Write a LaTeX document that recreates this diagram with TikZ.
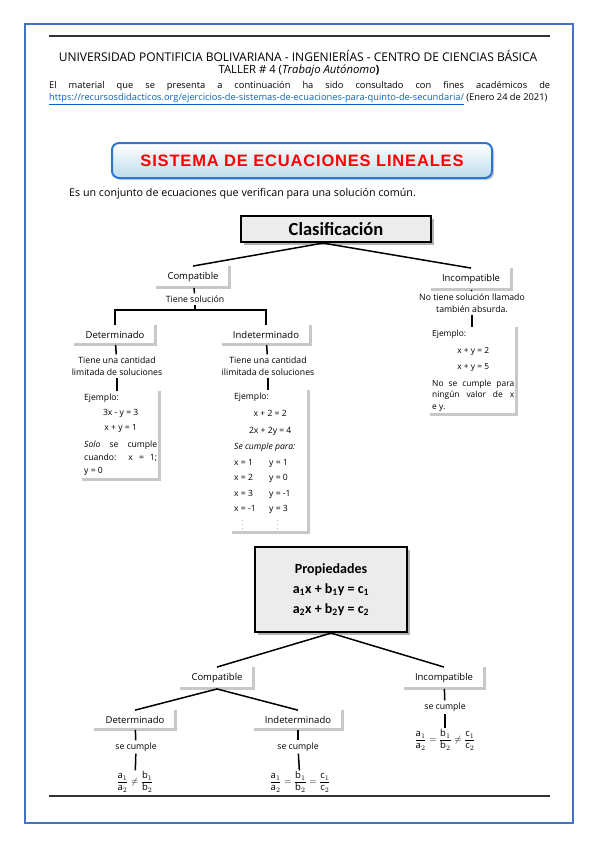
\documentclass[tikz,border=0pt]{standalone}
\usepackage{fontspec}
\usepackage{amsmath}
\setmainfont{Open Sans}
\newfontfamily\carlitofont{Carlito}
\newfontfamily\arialfont{Liberation Sans}
\usetikzlibrary{shadows,positioning,calc}

\definecolor{marcoazul}{RGB}{68,114,196}
\definecolor{bordetitulo}{RGB}{46,117,208}
\definecolor{enlace}{RGB}{5,99,193}
\definecolor{grisL}{RGB}{200,200,200}
\definecolor{grisCaja}{RGB}{236,236,236}

\begin{document}
\begin{tikzpicture}[x=1pt,y=-1pt,
    regla/.style={line width=2pt,black!80},
    conector/.style={line width=1.5pt},
    sombra/.style={line width=3pt,grisL},
    etiqueta/.style={font=\fontsize{9.5}{11}\selectfont,inner xsep=11pt,inner ysep=6pt},
    texto/.style={font=\fontsize{8.7}{12}\selectfont,align=center,inner sep=2pt},
    fraccion/.style={font=\fontsize{9.5}{12}\selectfont,inner sep=1pt},
    ejemplo/.style={align=left,anchor=north west,inner xsep=2pt,inner ysep=3pt},
    caja/.style={draw,line width=2.2pt,fill=grisCaja,
        drop shadow={shadow xshift=3pt,shadow yshift=-3pt,fill=black!50,opacity=.6}}]

  \useasboundingbox (0,0) rectangle (599,848);

  % page frame and rules
  \draw[line width=2.5pt,marcoazul] (25,24) rectangle (573,823);
  \draw[regla] (49,36) -- (550,36);
  \draw[regla] (49,796) -- (550,796);

  % header
  \node[font=\fontsize{12}{14}\selectfont] (uni) at (298,56)
       {UNIVERSIDAD PONTIFICIA BOLIVARIANA - INGENIERÍAS - CENTRO DE CIENCIAS BÁSICA};
  \node[font=\fontsize{11.3}{13}\selectfont] (taller) at (299,71)
       {TALLER \# 4 (\textit{Trabajo Autónomo}\textbf{)}};
  \node[anchor=west,inner sep=0,font=\fontsize{9.3}{11}\selectfont] (material) at (49,86)
       {\makebox[501pt][s]{El material que se presenta a continuación ha sido consultado con fines académicos de}};
  \node[anchor=west,inner sep=0,font=\fontsize{9.3}{11}\selectfont] (fuente) at (49,99.5)
       {\textcolor{enlace}{\underline{https://recursosdidacticos.org/ejercicios-de-sistemas-de-ecuaciones-para-quinto-de-secundaria/}} (Enero 24 de 2021)};

  % title
  \node[draw=bordetitulo,line width=2pt,rounded corners=7pt,
        top color=white,bottom color={rgb,255:red,188;green,221;blue,236},
        drop shadow={shadow xshift=2pt,shadow yshift=-2pt,opacity=.4},
        minimum width=380pt,minimum height=35pt,text=red,
        font=\arialfont\bfseries\fontsize{16.5}{18}\selectfont\addfontfeature{LetterSpace=5}]
       (titulo) at (302,160.5) {SISTEMA DE ECUACIONES LINEALES};
  \node[anchor=west,inner sep=0,font=\fontsize{10.7}{12}\selectfont] (definicion) at (69,194)
       {Es un conjunto de ecuaciones que verifican para una solución común.};

  % clasificacion
  \node[caja,minimum width=190pt,minimum height=26pt,
        font=\carlitofont\bfseries\fontsize{18.5}{20}\selectfont] (clas) at (336,229) {Clasificación};

  \node[etiqueta] (comp) at (193,277) {Compatible};
  \node[etiqueta] (incomp) at (471,279) {Incompatible};
  \draw[sombra] (comp.north east) |- (comp.south west);
  \draw[sombra] (incomp.north east) |- (incomp.south west);
  \draw[conector] ([xshift=-13pt]clas.south) -- (comp.north);
  \draw[conector] ([xshift=-13pt]clas.south) -- (incomp.north);

  % compatible branch
  \node[texto] (tsol) at (195,299) {Tiene solución};
  \coordinate (brk) at (195,310);
  \node[etiqueta] (det) at (115,335) {Determinado};
  \node[etiqueta] (indet) at (266,335) {Indeterminado};
  \draw[sombra] (det.north east) |- (det.south west);
  \draw[sombra] (indet.north east) |- (indet.south west);
  \draw[conector] (comp) -- (tsol);
  \draw[conector] (tsol) -- (brk);
  \draw[conector] (det) |- (brk) -| (indet);

  \node[texto] (cant1) at (117,366) {Tiene una cantidad\\limitada de soluciones};
  \node[texto] (cant2) at (268,366) {Tiene una cantidad\\ilimitada de soluciones};
  \draw[conector] (det) -- (cant1);
  \draw[conector] (indet) -- (cant2);

  \node[ejemplo,font=\fontsize{8.6}{13}\selectfont] (ej1) at (82,391)
       {Ejemplo:\\[2pt]
        \makebox[73pt]{3x - y = 3}\\[2pt]
        \makebox[73pt]{x + y = 1}\\[4pt]
        \makebox[73pt][s]{\textit{Solo} se cumple}\\
        \makebox[73pt][s]{cuando:\ \ x = 1;}\\
        y = 0};
  \node[ejemplo,font=\fontsize{8.6}{15.5}\selectfont] (ej2) at (232,390)
       {Ejemplo:\\[1.5pt]
        \makebox[72pt]{x + 2 = 2}\\[1.5pt]
        \makebox[72pt]{2x + 2y = 4}\\[0.5pt]
        \textit{Se cumple para:}\\
        \makebox[35pt][l]{x = 1}y = 1\\
        \makebox[35pt][l]{x = 2}y = 0\\
        \makebox[35pt][l]{x = 3}y = -1\\
        \makebox[35pt][l]{x = -1}y = 3\\
        \makebox[35pt][l]{\hspace{8pt}\tiny$\vdots$}\hspace{8pt}\tiny$\vdots$};
  \draw[sombra] (ej1.north east) |- (ej1.south west);
  \draw[sombra] (ej2.north east) |- (ej2.south west);
  \draw[conector] (cant1) -- (cant1 |- ej1.north);
  \draw[conector] (cant2) -- (cant2 |- ej2.north);

  % incompatible branch
  \node[texto] (nosol) at (472,303) {No tiene solución llamado\\también absurda.};
  \node[ejemplo,font=\fontsize{8.4}{13}\selectfont] (ej3) at (430,326.5)
       {Ejemplo:\\[4pt]
        \makebox[82pt]{x + y = 2}\\[3pt]
        \makebox[82pt]{x + y = 5}\\[4pt]
        \makebox[82pt][s]{No se cumple para}\\[-1.5pt]
        \makebox[82pt][s]{ningún valor de x}\\[-1.5pt]
        e y.};
  \draw[sombra] (ej3.north east) |- (ej3.south west);
  \draw[conector] (incomp) -- (nosol);
  \draw[conector] (nosol) -- (nosol |- ej3.north);

  % propiedades
  \node[caja,minimum width=152pt,minimum height=85pt,align=center,
        font=\carlitofont\bfseries\fontsize{14}{20}\selectfont] (prop) at (331,589.5)
       {Propiedades\\a\textsubscript{1}x + b\textsubscript{1}y = c\textsubscript{1}\\
        a\textsubscript{2}x + b\textsubscript{2}y = c\textsubscript{2}};

  \node[etiqueta] (comp2) at (217,678) {Compatible};
  \node[etiqueta] (incomp2) at (444,678) {Incompatible};
  \draw[sombra] (comp2.north east) |- (comp2.south west);
  \draw[sombra] (incomp2.north east) |- (incomp2.south west);
  \draw[conector] (prop.south) -- (comp2.north);
  \draw[conector] (prop.south) -- (incomp2.north);

  \node[etiqueta] (det2) at (135,720) {Determinado};
  \node[etiqueta] (indet2) at (298,720) {Indeterminado};
  \draw[sombra] (det2.north east) |- (det2.south west);
  \draw[sombra] (indet2.north east) |- (indet2.south west);
  \draw[conector] (comp2.south) -- (det2.north);
  \draw[conector] (comp2.south) -- (indet2.north);

  \node[texto] (cumple1) at (136,747) {se cumple};
  \node[texto] (cumple2) at (298,747) {se cumple};
  \node[texto] (cumple3) at (445,707) {se cumple};
  \node[fraccion] (frac1) at (135,782)
       {$\dfrac{\text{a}_1}{\text{a}_2}\neq\dfrac{\text{b}_1}{\text{b}_2}$};
  \node[fraccion] (frac2) at (300,782)
       {$\dfrac{\text{a}_1}{\text{a}_2}=\dfrac{\text{b}_1}{\text{b}_2}=\dfrac{\text{c}_1}{\text{c}_2}$};
  \node[fraccion] (frac3) at (445,740)
       {$\dfrac{\text{a}_1}{\text{a}_2}=\dfrac{\text{b}_1}{\text{b}_2}\neq\dfrac{\text{c}_1}{\text{c}_2}$};
  \draw[conector] (det2) -- (cumple1);
  \draw[conector] (cumple1) -- (frac1);
  \draw[conector] (indet2) -- (cumple2);
  \draw[conector] (cumple2) -- (frac2);
  \draw[conector] (incomp2) -- (cumple3);
  \draw[conector] (cumple3) -- (frac3);
\end{tikzpicture}
\end{document}
